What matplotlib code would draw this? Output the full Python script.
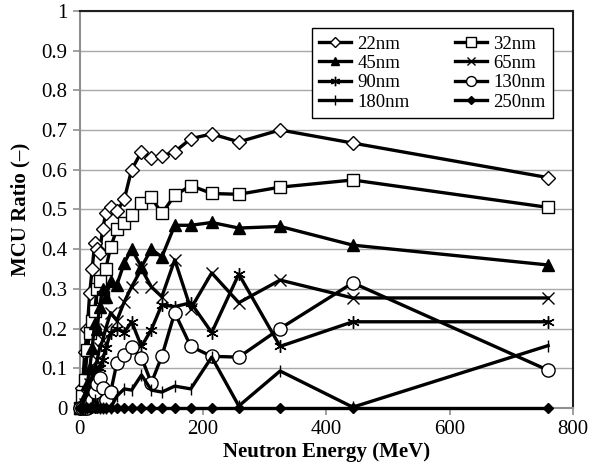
# -*- coding: UTF-8 -*-
import matplotlib
matplotlib.use("Agg")
import matplotlib.pyplot as plt
from matplotlib.ticker import MultipleLocator, FormatStrFormatter

plt.rcParams['font.family'] = ['Liberation Serif', 'DejaVu Serif']

# neutron energy (MeV)
energy = [1, 4, 8, 12, 16, 20, 24, 28, 32, 37, 42, 50, 60, 72, 84,
          100, 116, 133, 154, 180, 214, 258, 325, 443, 760]

nm22 = [0.0, 0.05, 0.14, 0.2, 0.29, 0.35, 0.415, 0.40, 0.39, 0.45, 0.49, 0.505, 0.495,
        0.525, 0.60, 0.645, 0.63, 0.635, 0.645, 0.678, 0.69, 0.67, 0.70, 0.667, 0.58]
nm32 = [0.0, 0.03, 0.07, 0.145, 0.19, 0.22, 0.245, 0.30, 0.32, 0.28, 0.35, 0.405, 0.45,
        0.465, 0.485, 0.515, 0.53, 0.49, 0.535, 0.56, 0.54, 0.538, 0.556, 0.574, 0.505]
nm45 = [0.0, 0.01, 0.03, 0.06, 0.1, 0.15, 0.215, 0.2, 0.255, 0.3, 0.28, 0.32, 0.31,
        0.365, 0.40, 0.355, 0.40, 0.38, 0.46, 0.46, 0.467, 0.453, 0.457, 0.41, 0.36]
nm65 = [0.0, 0.0, 0.01, 0.03, 0.06, 0.08, 0.1, 0.12, 0.15, 0.17, 0.2, 0.24, 0.22,
        0.267, 0.305, 0.35, 0.305, 0.28, 0.373, 0.25, 0.34, 0.265, 0.322, 0.277, 0.277]
nm90 = [0.0, 0.0, 0.0, 0.01, 0.03, 0.05, 0.07, 0.09, 0.1, 0.12, 0.15, 0.19, 0.2,
        0.19, 0.217, 0.155, 0.197, 0.26, 0.255, 0.265, 0.19, 0.337, 0.155, 0.217, 0.217]
nm130 = [0.0, 0.0, 0.0, 0.0, 0.01, 0.02, 0.04, 0.06, 0.075, 0.05, 0.02, 0.04, 0.113,
         0.133, 0.153, 0.127, 0.063, 0.13, 0.24, 0.155, 0.13, 0.128, 0.2, 0.315, 0.095]
nm180 = [0.0, 0.0, 0.0, 0.0, 0.0, 0.01, 0.02, 0.01, 0.0, 0.0, 0.0, 0.0, 0.03,
         0.048, 0.045, 0.083, 0.045, 0.04, 0.055, 0.048, 0.128, 0.005, 0.093, 0.002, 0.157]
nm250 = [0.0] * len(energy)

series = [
    ("22nm", nm22, dict(marker="D", mfc="white", ms=7)),
    ("32nm", nm32, dict(marker="s", mfc="white", ms=9)),
    ("45nm", nm45, dict(marker="^", mfc="black", ms=8.5)),
    ("65nm", nm65, dict(marker="x", mfc="none", ms=8.5, mew=1.0)),
    ("90nm", nm90, dict(marker=(6, 2, 0), mfc="none", ms=9, mew=1.0)),
    ("130nm", nm130, dict(marker="o", mfc="white", ms=9.5)),
    ("180nm", nm180, dict(marker="|", mfc="none", ms=9, mew=1.0)),
    ("250nm", nm250, dict(marker="D", mfc="black", ms=5.5)),
]

fig = plt.figure(figsize=(5.96, 4.70), dpi=100)
ax = fig.add_axes([0.134, 0.132, 0.827, 0.845])

lines = {}
for name, vals, st in series:
    ln, = ax.plot(energy, vals, color="black", linewidth=2.4, mec="black",
                  label=name, clip_on=False, zorder=3, **st)
    lines[name] = ln

ax.set_xlim(0, 800)
ax.set_ylim(0, 1)
ax.xaxis.set_major_locator(MultipleLocator(200))
ax.yaxis.set_major_locator(MultipleLocator(0.1))
ax.yaxis.set_major_formatter(FormatStrFormatter('%g'))
ax.grid(axis="y", color="#a8a8a8", linewidth=1.0)
ax.set_axisbelow(True)

for s in ["left", "bottom"]:
    ax.spines[s].set_color("#909090")
    ax.spines[s].set_linewidth(1.5)
for s in ["top", "right"]:
    ax.spines[s].set_color("#202020")
    ax.spines[s].set_linewidth(1.5)
ax.tick_params(axis="both", direction="out", color="#909090", width=1.2, length=5,
               labelsize=15, pad=4)

ax.set_xlabel("Neutron Energy (MeV)", fontsize=15, fontweight="bold", labelpad=2)
ax.set_ylabel("MCU Ratio (\u2013)", fontsize=15, fontweight="bold", labelpad=8)

# row-wise order in a 2-column legend
order = ["22nm", "45nm", "90nm", "180nm", "32nm", "65nm", "130nm", "250nm"]
leg = ax.legend([lines[n] for n in order], order, ncol=2, loc="upper left",
                bbox_to_anchor=(0.47, 0.957), borderaxespad=0, fancybox=False,
                shadow=False, fontsize=13.5, markerscale=0.75,
                handlelength=1.7, handletextpad=0.35, columnspacing=2.4,
                labelspacing=0.12, borderpad=0.4, framealpha=1)
leg.get_frame().set_edgecolor("black")
leg.get_frame().set_linewidth(1.0)

fig.savefig("out.png", dpi=100)
